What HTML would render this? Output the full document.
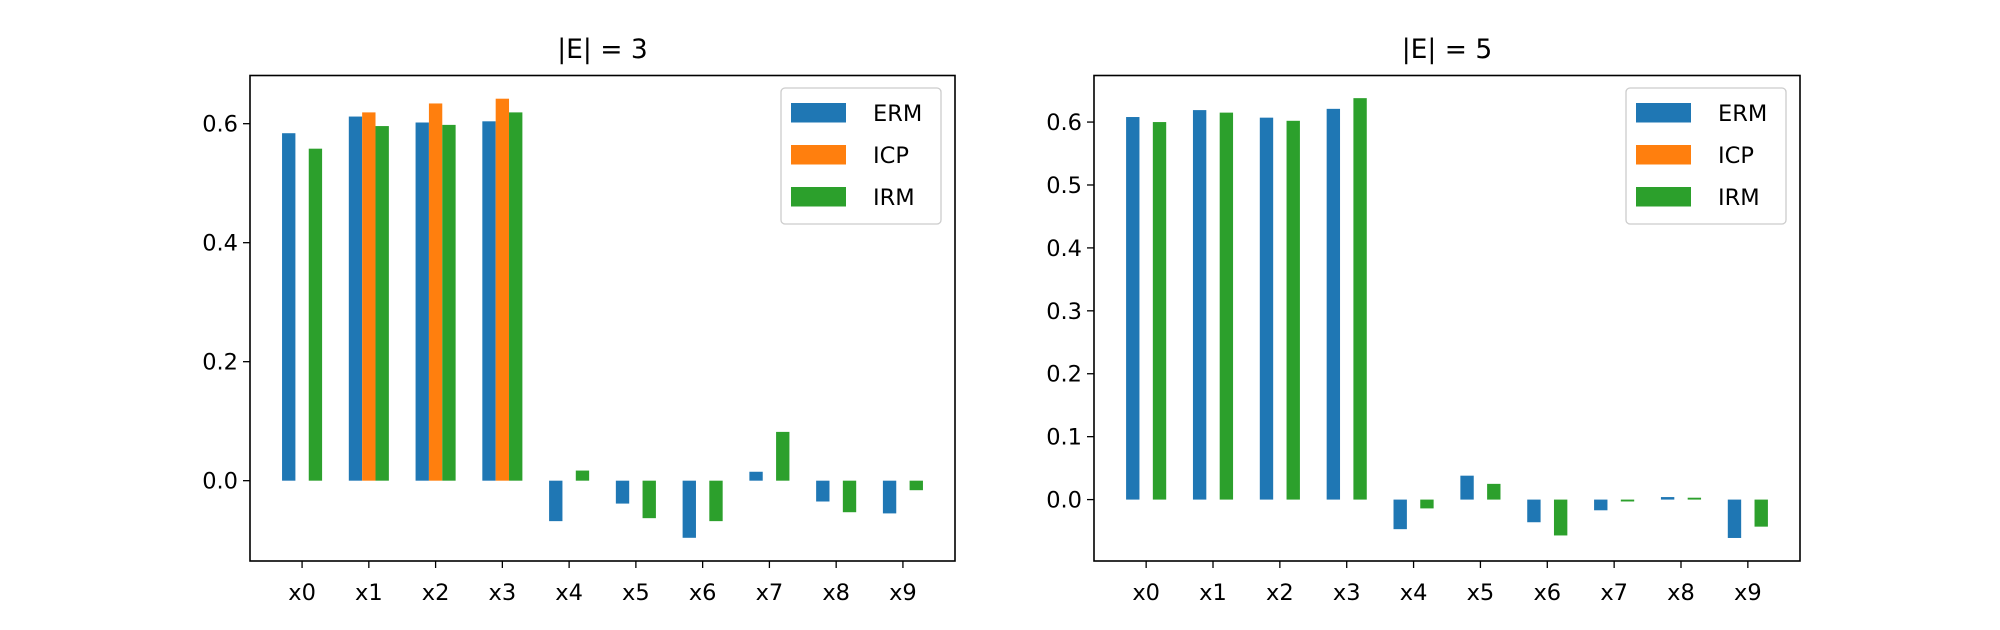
<!DOCTYPE html>
<html><head><meta charset="utf-8"><style>
html,body{margin:0;padding:0;background:#fff;}
svg{display:block;font-family:"DejaVu Sans","Liberation Sans",sans-serif;}
</style></head><body>
<svg id="fig" width="2000" height="630" viewBox="0 0 2000 630" xmlns="http://www.w3.org/2000/svg"></svg>
<script>
const categories = ["x0","x1","x2","x3","x4","x5","x6","x7","x8","x9"];
const seriesNames = ["ERM","ICP","IRM"];
const seriesColors = ["#1f77b4","#ff7f0e","#2ca02c"];
const titles = ["|E| = 3","|E| = 5"];
const left_ERM = [0.584,0.612,0.602,0.604,-0.068,-0.0385,-0.096,0.015,-0.035,-0.055];
const left_ICP = [0,0.619,0.634,0.642,0,0,0,0,0,0];
const left_IRM = [0.558,0.596,0.598,0.619,0.017,-0.063,-0.068,0.082,-0.053,-0.016];
const right_ERM = [0.608,0.619,0.607,0.621,-0.047,0.038,-0.036,-0.017,0.004,-0.061];
const right_ICP = [0,0,0,0,0,0,0,0,0,0];
const right_IRM = [0.600,0.615,0.602,0.638,-0.014,0.025,-0.057,-0.003,0.003,-0.043];
const leftTicks = [0.0,0.2,0.4,0.6];
const leftTickLabels = ["0.0","0.2","0.4","0.6"];
const rightTicks = [0.0,0.1,0.2,0.3,0.4,0.5,0.6];
const rightTickLabels = ["0.0","0.1","0.2","0.3","0.4","0.5","0.6"];

const NS="http://www.w3.org/2000/svg";
const svgEl=document.getElementById('fig');
function mk(tag,attrs,parent){const e=document.createElementNS(NS,tag);for(const k in attrs)e.setAttribute(k,attrs[k]);(parent||svgEl).appendChild(e);return e;}

const panels=[
 {x0:250,x1:955,ymin:-0.135,ymax:0.681,data:[left_ERM,left_ICP,left_IRM],ticks:leftTicks,labels:leftTickLabels,title:titles[0],name:'left'},
 {x0:1094,x1:1800,ymin:-0.0976,ymax:0.674,data:[right_ERM,right_ICP,right_IRM],ticks:rightTicks,labels:rightTickLabels,title:titles[1],name:'right'}
];
const axTop=75.5,axBot=561,xmin=-0.78,xmax=9.78,bw=0.2;

panels.forEach(p=>{
  const g=mk('g',{});
  
  
  const sx=v=>p.x0+(v-xmin)/(xmax-xmin)*(p.x1-p.x0);
  const sy=v=>axBot-(v-p.ymin)/(p.ymax-p.ymin)*(axBot-axTop);
  p.data.forEach((arr,si)=>{
    arr.forEach((v,i)=>{
      const c=i+(si-1)*bw;
      const y1=sy(Math.max(v,0)),y2=sy(Math.min(v,0));
      const r=mk('rect',{x:sx(c-bw/2),y:y1,width:sx(c+bw/2)-sx(c-bw/2),height:Math.max(0,y2-y1),fill:seriesColors[si]},g);
      
      
    });
  });
  const fr=mk('rect',{x:p.x0,y:axTop,width:p.x1-p.x0,height:axBot-axTop,fill:'none',stroke:'#000','stroke-width':1.6},g);
  
  
  p.ticks.forEach((t,i)=>{
    const y=sy(t);
    mk('line',{x1:p.x0-7,x2:p.x0,y1:y,y2:y,stroke:'#000','stroke-width':1.3},g);
    const tx=mk('text',{x:p.x0-12,y:y+8,'text-anchor':'end','font-size':22.5},g);
    tx.textContent=p.labels[i];
    
    
  });
  categories.forEach((c,i)=>{
    const x=sx(i);
    mk('line',{x1:x,x2:x,y1:axBot,y2:axBot+7,stroke:'#000','stroke-width':1.3},g);
    const tx=mk('text',{x:x,y:axBot+39,'text-anchor':'middle','font-size':22.5},g);
    tx.textContent=c;
    
    
  });
  const tt=mk('text',{x:(p.x0+p.x1)/2,y:58,'text-anchor':'middle','font-size':26.5},g);
  tt.textContent=p.title;
  
  
  const lx=p.x1-174;
  const lg=mk('g',{},g);
  
  
  mk('rect',{x:lx,y:88,width:160,height:136,rx:4,fill:'#fff',stroke:'#ccc','stroke-width':1.3},lg);
  seriesNames.forEach((n,si)=>{
    const y=103+si*42;
    mk('rect',{x:lx+10,y:y,width:55,height:19.5,fill:seriesColors[si]},lg);
    const t=mk('text',{x:lx+92,y:y+18,'font-size':22.5},lg);
    t.textContent=n;
    
    
  });
});
</script>
</body></html>
